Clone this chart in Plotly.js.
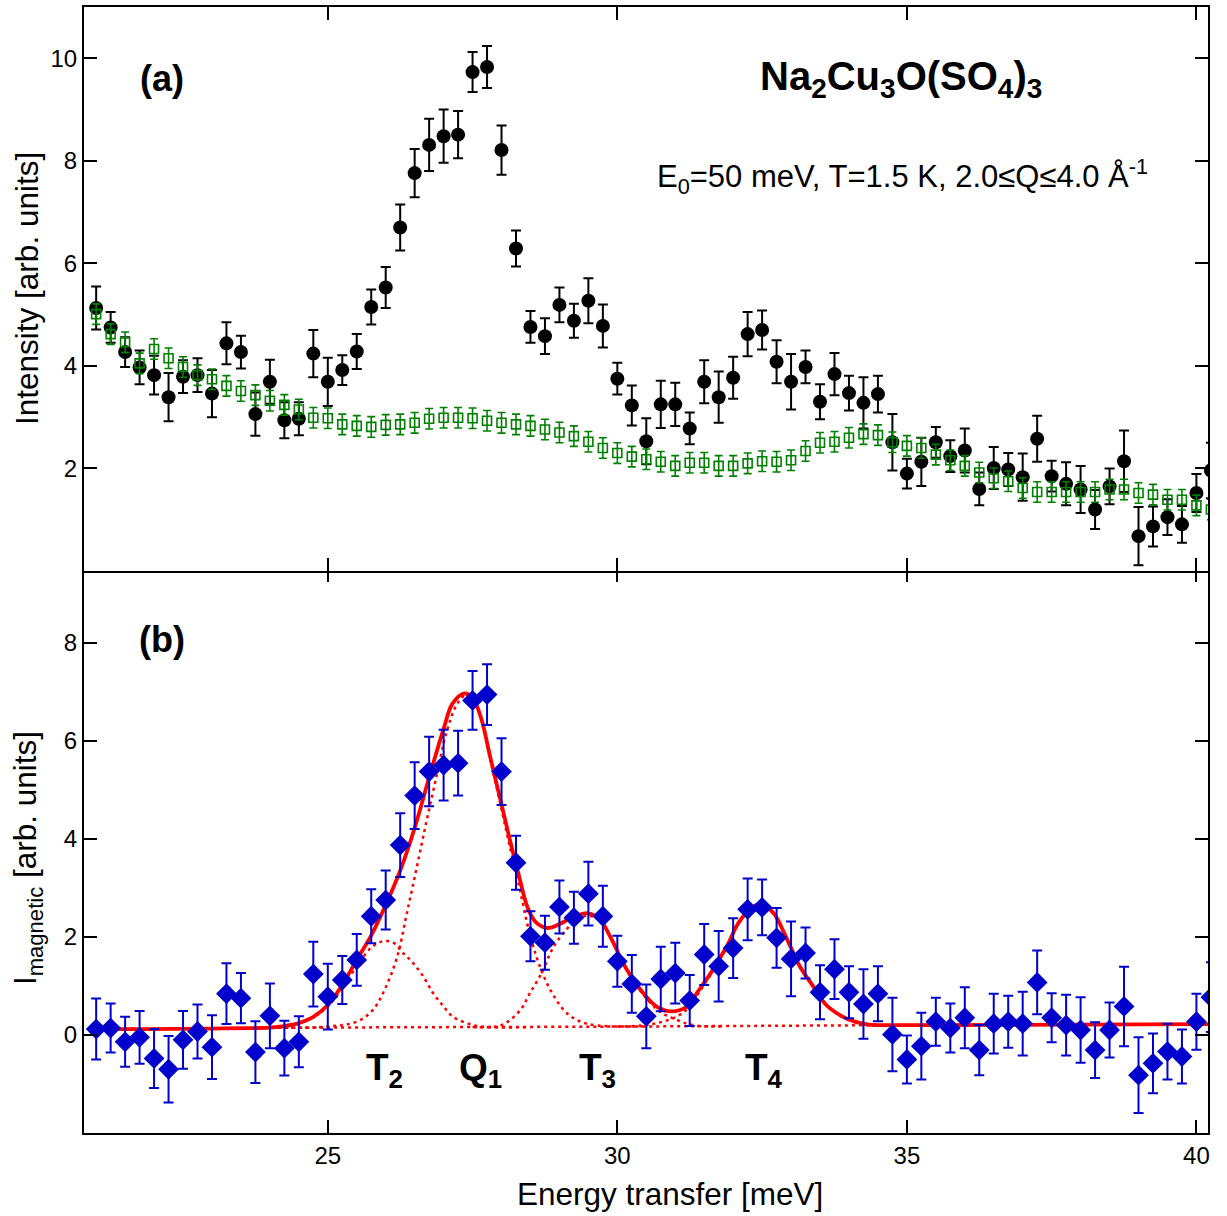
<!DOCTYPE html>
<html>
<head>
<meta charset="utf-8">
<script src="https://cdn.plot.ly/plotly-3.0.1.min.js"></script>
<style>
  html, body { margin: 0; padding: 0; background: #fff; }
  #chart { width: 1227px; height: 1216px; }
</style>
</head>
<body>
<div id="chart"></div>
<script>
// Energy transfer grid of the measured points [meV]
const energy = [21.0,21.25,21.5,21.75,22.0,22.25,22.5,22.75,23.0,23.25,23.5,23.75,24.0,24.25,24.5,24.75,
  25.0,25.25,25.5,25.75,26.0,26.25,26.5,26.75,27.0,27.25,27.5,27.75,28.0,28.25,28.5,28.75,
  29.0,29.25,29.5,29.75,30.0,30.25,30.5,30.75,31.0,31.25,31.5,31.75,32.0,32.25,32.5,32.75,
  33.0,33.25,33.5,33.75,34.0,34.25,34.5,34.75,35.0,35.25,35.5,35.75,36.0,36.25,36.5,36.75,
  37.0,37.25,37.5,37.75,38.0,38.25,38.5,38.75,39.0,39.25,39.5,39.75,40.0,40.25];

// (a) measured intensity, T = 1.5 K
const intensityLowT = [5.13,4.75,4.27,3.97,3.82,3.39,3.79,3.82,3.46,4.44,4.27,3.06,3.69,2.94,2.97,4.24,
  3.69,3.92,4.28,5.15,5.53,6.70,7.76,8.31,8.48,8.51,9.73,9.83,8.21,6.29,4.76,4.58,
  5.19,4.88,5.27,4.78,3.75,3.23,2.53,3.25,3.25,2.78,3.69,3.39,3.77,4.62,4.70,4.08,
  3.69,3.98,3.30,3.84,3.47,3.28,3.45,2.51,1.90,2.13,2.51,2.24,2.35,1.60,2.01,1.98,
  1.83,2.58,1.85,1.70,1.59,1.20,1.65,2.14,0.68,0.87,1.05,0.91,1.52,1.96];
const intensityLowTErr = [0.42,0.30,0.29,0.33,0.38,0.47,0.32,0.33,0.46,0.41,0.32,0.42,0.43,0.35,0.32,0.46,
  0.47,0.29,0.34,0.34,0.40,0.45,0.47,0.51,0.52,0.46,0.39,0.41,0.48,0.35,0.31,0.35,
  0.34,0.33,0.44,0.42,0.31,0.39,0.45,0.46,0.42,0.31,0.42,0.50,0.41,0.43,0.38,0.42,
  0.54,0.32,0.34,0.41,0.34,0.50,0.36,0.55,0.29,0.47,0.30,0.31,0.43,0.32,0.41,0.32,
  0.46,0.45,0.30,0.42,0.46,0.38,0.35,0.60,0.57,0.39,0.35,0.36,0.37,0.54];

// (a) phonon background estimate
const intensityBackground = [5.01,4.62,4.46,4.05,4.33,4.15,3.98,3.82,3.74,3.61,3.51,3.43,3.32,3.24,3.15,2.99,
  2.98,2.86,2.83,2.81,2.85,2.86,2.89,2.97,2.99,2.99,2.98,2.93,2.89,2.86,2.83,2.76,
  2.70,2.63,2.52,2.40,2.30,2.23,2.18,2.13,2.05,2.11,2.11,2.05,2.05,2.10,2.14,2.13,
  2.16,2.34,2.50,2.52,2.60,2.67,2.65,2.51,2.44,2.40,2.27,2.16,2.05,1.92,1.81,1.75,
  1.62,1.54,1.54,1.54,1.54,1.54,1.59,1.59,1.52,1.49,1.39,1.39,1.28,1.20];
const backgroundErr = 0.2;

// (b) magnetic intensity
const magnetic = [0.12,0.14,-0.14,-0.05,-0.48,-0.70,-0.10,0.07,-0.25,0.84,0.75,-0.35,0.39,-0.27,-0.14,1.24,
  0.78,1.12,1.53,2.42,2.75,3.87,4.88,5.37,5.50,5.54,6.82,6.94,5.37,3.51,2.01,1.88,
  2.61,2.39,2.88,2.42,1.50,1.04,0.38,1.14,1.26,0.70,1.64,1.40,1.77,2.56,2.60,1.98,
  1.55,1.67,0.87,1.34,0.87,0.63,0.84,0.01,-0.50,-0.23,0.27,0.14,0.35,-0.31,0.23,0.27,
  0.23,1.07,0.35,0.20,0.10,-0.31,0.10,0.58,-0.82,-0.58,-0.34,-0.44,0.27,0.77];
const magneticErr = [0.62,0.50,0.51,0.54,0.60,0.68,0.59,0.55,0.65,0.62,0.51,0.63,0.66,0.56,0.52,0.66,
  0.67,0.49,0.53,0.55,0.60,0.65,0.68,0.71,0.72,0.66,0.60,0.62,0.68,0.55,0.51,0.55,
  0.54,0.53,0.65,0.62,0.52,0.59,0.65,0.66,0.62,0.52,0.62,0.72,0.61,0.63,0.57,0.61,
  0.76,0.52,0.55,0.61,0.53,0.71,0.56,0.75,0.49,0.68,0.49,0.50,0.62,0.51,0.61,0.53,
  0.65,0.65,0.50,0.62,0.67,0.57,0.56,0.81,0.77,0.61,0.57,0.55,0.57,0.71];

// (b) total fit
const fitE = [21.0,22.0,23.0,23.75,24.0,24.25,24.5,24.75,25.0,25.25,25.5,25.75,26.0,26.25,26.5,26.75,
  27.0,27.15,27.35,27.5,27.65,27.8,28.0,28.15,28.3,28.45,28.6,28.8,29.0,29.25,29.5,29.7,
  29.9,30.15,30.45,30.7,30.95,31.2,31.4,31.65,31.9,32.1,32.35,32.5,32.7,32.9,33.15,33.4,
  33.6,33.85,34.1,34.35,34.75,35.5,40.25];
const fitTotal = [0.12,0.12,0.13,0.14,0.15,0.18,0.24,0.37,0.61,1.02,1.53,2.03,2.65,3.35,4.22,5.25,
  6.24,6.75,6.96,6.87,6.45,5.69,4.70,3.95,3.25,2.60,2.29,2.18,2.26,2.41,2.48,2.35,
  1.95,1.36,0.85,0.56,0.48,0.58,0.90,1.33,1.83,2.30,2.62,2.66,2.48,2.03,1.40,0.96,
  0.62,0.40,0.27,0.21,0.20,0.20,0.22];

// (b) individual fit components
const t2E = [23.5,24.0,24.25,24.5,24.75,25.0,25.25,25.5,25.75,25.95,26.13,26.3,26.47,26.65,26.82,27.0,27.16,27.4,27.65,28.5];
const t2Fit = [0.13,0.15,0.18,0.24,0.36,0.58,0.95,1.40,1.78,1.91,1.88,1.67,1.47,1.19,0.85,0.58,0.37,0.24,0.17,0.16];

const q1E = [24.0,25.0,25.5,25.78,26.0,26.2,26.36,26.53,26.7,26.88,27.05,27.22,27.37,27.5,27.65,27.8,
  28.0,28.15,28.3,28.5,28.7,28.9,29.15,29.5,30.5];
const q1Fit = [0.15,0.17,0.27,0.51,0.97,1.60,2.45,3.38,4.33,5.29,6.17,6.72,6.92,6.87,6.45,5.65,
  4.60,3.80,3.05,2.00,1.28,0.80,0.42,0.22,0.18];

const t3E = [27.5,28.0,28.32,28.49,28.7,28.89,29.12,29.3,29.5,29.7,29.9,30.15,30.45,30.73,31.0,31.3,31.8];
const t3Fit = [0.16,0.20,0.50,0.85,1.28,1.78,2.15,2.35,2.43,2.33,1.95,1.35,0.82,0.48,0.32,0.20,0.17];

const t4E = [30.0,30.5,30.75,31.0,31.2,31.4,31.65,31.9,32.1,32.35,32.5,32.7,32.9,33.15,33.4,33.6,33.85,34.1,34.35,34.75,35.5];
const t4Fit = [0.17,0.20,0.26,0.36,0.52,0.85,1.30,1.81,2.28,2.60,2.64,2.46,2.01,1.39,0.95,0.61,0.39,0.26,0.20,0.19,0.19];

const baseE = [21.0,25.0,30.0,35.0,40.25];
const baseFit = [0.12,0.15,0.17,0.20,0.22];

// Peak labels
const peakNames = ['T<sub>2</sub>','Q<sub>1</sub>','T<sub>3</sub>','T<sub>4</sub>'];
const peakLabelE = [25.98,27.64,29.66,32.53];

const FONT = 'Liberation Sans, Arial, Helvetica, sans-serif';
const RED = '#ff0000';
const BLUE = '#0000cc';
const GREEN = '#008000';

const dotted = (x, y) => ({
  x, y, xaxis: 'x', yaxis: 'y', type: 'scatter', mode: 'lines',
  line: {color: RED, width: 2.5, dash: '3px,4px', shape: 'spline', smoothing: 1},
  hoverinfo: 'skip', showlegend: false
});

const traces = [
  // panel (a)
  {
    x: energy, y: intensityLowT, xaxis: 'x2', yaxis: 'y2', type: 'scatter', mode: 'markers',
    marker: {symbol: 'circle', size: 14, color: '#000'},
    error_y: {type: 'data', array: intensityLowTErr, visible: true, color: '#000', thickness: 2, width: 5},
    showlegend: false
  },
  {
    x: energy, y: intensityBackground, xaxis: 'x2', yaxis: 'y2', type: 'scatter', mode: 'markers',
    marker: {symbol: 'square-open', size: 9, color: GREEN, line: {width: 1.6, color: GREEN}},
    error_y: {type: 'constant', value: backgroundErr, visible: true, color: GREEN, thickness: 1.6, width: 4},
    showlegend: false
  },
  // panel (b)
  dotted(baseE, baseFit),
  dotted(t2E, t2Fit),
  dotted(q1E, q1Fit),
  dotted(t3E, t3Fit),
  dotted(t4E, t4Fit),
  {
    x: fitE, y: fitTotal, xaxis: 'x', yaxis: 'y', type: 'scatter', mode: 'lines',
    line: {color: RED, width: 3.8, shape: 'spline', smoothing: 1},
    showlegend: false
  },
  {
    x: energy, y: magnetic, xaxis: 'x', yaxis: 'y', type: 'scatter', mode: 'markers',
    marker: {symbol: 'diamond', size: 16, color: BLUE},
    error_y: {type: 'data', array: magneticErr, visible: true, color: BLUE, thickness: 2, width: 5},
    showlegend: false
  }
];

const axisCommon = {
  showline: true, linewidth: 2, linecolor: '#000', mirror: 'ticks',
  ticks: 'inside', ticklen: 13, tickwidth: 2, tickcolor: '#000',
  showgrid: false, zeroline: false,
  tickfont: {family: FONT, size: 24, color: '#000'}
};

const annotations = [
  {xref: 'x2', yref: 'y2', x: 22.13, y: 9.61, text: '<b>(a)</b>', showarrow: false,
   font: {family: FONT, size: 36, color: '#000'}, xanchor: 'center', yanchor: 'middle'},
  {xref: 'x', yref: 'y', x: 22.13, y: 8.06, text: '<b>(b)</b>', showarrow: false,
   font: {family: FONT, size: 36, color: '#000'}, xanchor: 'center', yanchor: 'middle'},
  {xref: 'x2', yref: 'y2', x: 34.9, y: 9.6,
   text: '<b>Na<sub>2</sub>Cu<sub>3</sub>O(SO<sub>4</sub>)<sub>3</sub></b>', showarrow: false,
   font: {family: FONT, size: 40, color: '#000'}, xanchor: 'center', yanchor: 'middle'},
  {xref: 'x2', yref: 'y2', x: 34.93, y: 7.7,
   text: 'E<sub>0</sub>=50 meV, T=1.5 K, 2.0≤Q≤4.0 Å<sup>-1</sup>', showarrow: false,
   font: {family: FONT, size: 31, color: '#000'}, xanchor: 'center', yanchor: 'middle'},
  {xref: 'paper', yref: 'paper', x: -0.0507, y: 0.7496, text: 'Intensity [arb. units]',
   textangle: -90, showarrow: false, font: {family: FONT, size: 31.5, color: '#000'},
   xanchor: 'center', yanchor: 'middle'},
  {xref: 'paper', yref: 'paper', x: -0.0507, y: 0.2442,
   text: 'I<sub>magnetic</sub> [arb. units]',
   textangle: -90, showarrow: false, font: {family: FONT, size: 31.5, color: '#000'},
   xanchor: 'center', yanchor: 'middle'},
  {xref: 'paper', yref: 'paper', x: 0.5214, y: -0.0542, text: 'Energy transfer [meV]',
   showarrow: false, font: {family: FONT, size: 31.5, color: '#000'},
   xanchor: 'center', yanchor: 'middle'}
];
peakNames.forEach((name, i) => {
  annotations.push({
    xref: 'x', yref: 'y', x: peakLabelE[i], y: -0.72, text: '<b>' + name + '</b>',
    showarrow: false, font: {family: FONT, size: 37, color: '#000'},
    xanchor: 'center', yanchor: 'middle'
  });
});

// the two panels share one frame edge: overlap their domains by a pixel each way
const edge = 1 / 1126;

const layout = {
  width: 1227, height: 1216,
  margin: {l: 84, r: 19, t: 7, b: 83},
  paper_bgcolor: '#fff', plot_bgcolor: '#fff',
  font: {family: FONT, color: '#000'},
  showlegend: false,
  xaxis: Object.assign({}, axisCommon, {domain: [0, 1], anchor: 'y', range: [20.79, 40.2], tickvals: [25, 30, 35, 40]}),
  xaxis2: Object.assign({}, axisCommon, {domain: [0, 1], anchor: 'y2', matches: 'x', range: [20.79, 40.2],
    tickvals: [25, 30, 35, 40], showticklabels: false}),
  yaxis: Object.assign({}, axisCommon, {domain: [0, 0.5 + edge], anchor: 'x', range: [-2, 9.5], tickvals: [0, 2, 4, 6, 8]}),
  yaxis2: Object.assign({}, axisCommon, {domain: [0.5 - edge, 1], anchor: 'x2', range: [0, 11], tickvals: [2, 4, 6, 8, 10]}),
  annotations
};

Plotly.newPlot('chart', traces, layout, {displayModeBar: false, staticPlot: true});
</script>
</body>
</html>
